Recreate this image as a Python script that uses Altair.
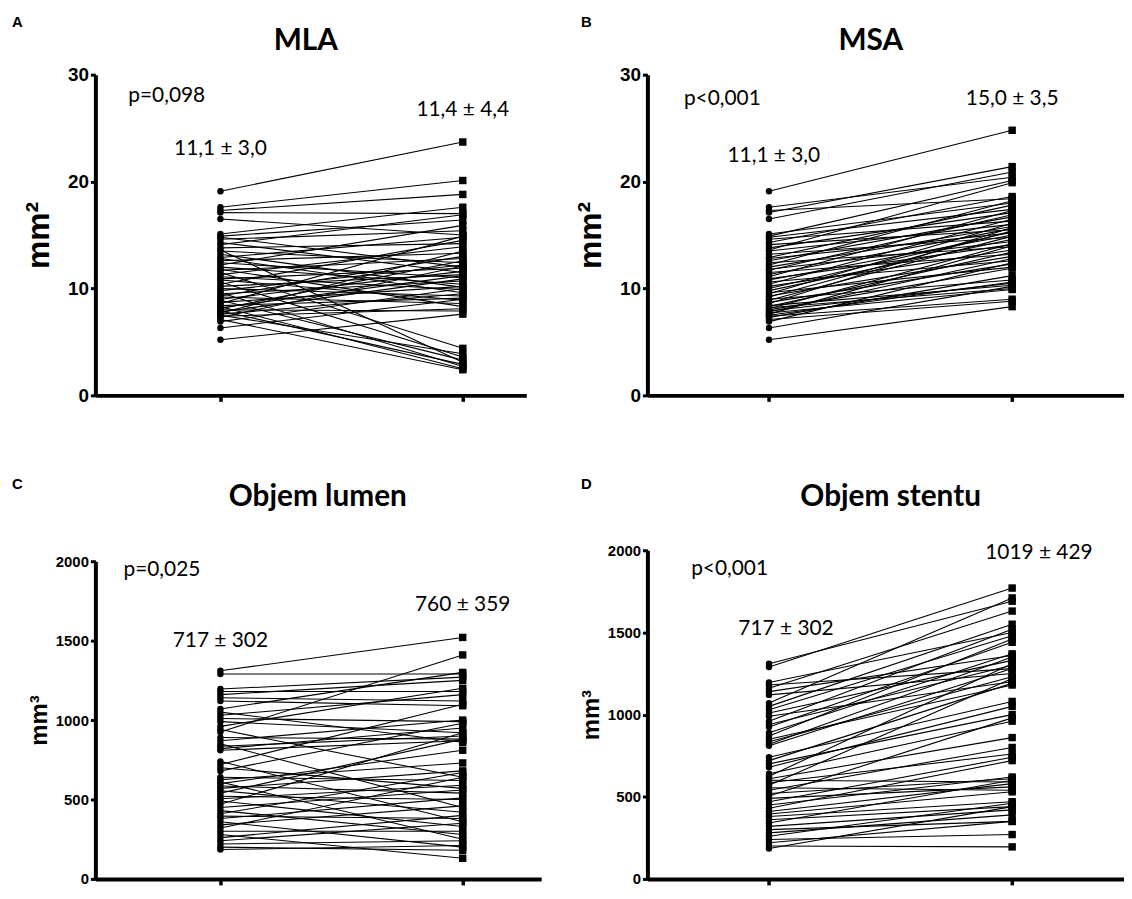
import altair as alt
import pandas as pd

# ---------------- data ----------------
# cross-sectional areas, mm^2 (same baseline column in panels A and B)
area_before = [19.1, 17.6, 17.3, 17.1, 16.5, 15.1, 14.9, 14.8, 14.6, 14.3,
               14.1, 13.8, 13.6, 13.5, 13.2, 12.9, 12.8, 12.6, 12.4, 12.2,
               12.0, 11.8, 11.7, 11.5, 11.3, 11.1, 10.9, 10.8, 10.6, 10.4,
               10.2, 10.0, 9.8, 9.6, 9.5, 9.3, 9.2, 9.0, 8.9, 8.7,
               8.6, 8.4, 8.3, 8.2, 8.1, 8.0, 7.9, 7.8, 7.7, 7.6,
               7.5, 7.4, 7.3, 7.1, 6.9, 6.3, 5.2]
mla_after = [23.7, 20.1, 18.8, 17.0, 15.0, 17.6, 16.4, 12.0, 15.4, 11.5,
             16.9, 14.2, 3.1, 12.4, 10.1, 14.8, 9.6, 13.3, 11.0, 15.9,
             10.4, 8.3, 12.8, 4.4, 13.9, 9.9, 11.9, 8.9, 3.6, 14.5,
             11.3, 9.3, 12.2, 2.7, 10.7, 13.0, 8.6, 11.6, 3.3, 10.2,
             14.9, 9.1, 2.5, 11.2, 12.6, 7.9, 2.9, 10.9, 13.5, 9.5,
             3.9, 8.1, 12.1, 2.4, 10.0, 9.0, 7.6]
msa_after = [24.8, 20.4, 18.4, 21.4, 20.9, 18.0, 20.1, 17.4, 16.3, 18.6,
             15.5, 17.1, 19.9, 16.0, 14.8, 17.8, 15.2, 16.7, 13.9, 18.2,
             15.8, 14.4, 16.9, 13.2, 15.6, 17.3, 14.1, 15.0, 12.6, 16.5,
             13.6, 15.3, 14.6, 12.0, 16.1, 13.0, 15.4, 10.8, 14.9, 12.3,
             15.7, 10.3, 13.4, 10.0, 14.2, 11.9, 10.5, 12.8, 9.9, 14.0,
             10.6, 9.0, 11.2, 8.8, 12.4, 10.2, 8.3]

# volumes, mm^3 (same baseline column in panels C and D)
vol_before = [1310, 1290, 1195, 1180, 1160, 1140, 1120, 1070, 1050, 1030,
              1010, 990, 960, 940, 925, 890, 870, 850, 835, 820,
              810, 740, 720, 700, 680, 640, 625, 610, 600, 585,
              570, 555, 540, 520, 505, 490, 470, 450, 430, 410,
              395, 380, 360, 340, 320, 300, 280, 260, 240, 220,
              200, 185]
lumen_after = [1520, 1290, 1270, 1180, 1250, 1120, 1090, 1300, 860, 1160,
               990, 920, 1200, 640, 1410, 880, 1000, 450, 900, 950,
               870, 360, 1100, 570, 980, 620, 730, 250, 810, 540,
               680, 420, 880, 500, 590, 330, 920, 560, 280, 670,
               380, 510, 200, 460, 640, 300, 130, 400, 350, 240,
               180, 210]
stent_after = [1690, 1770, 1500, 1280, 1630, 1360, 1250, 1710, 1550, 1480,
               1330, 1200, 1520, 1300, 1440, 1370, 1460, 1180, 1230, 1350,
               1280, 1080, 1190, 1000, 1050, 960, 1310, 860, 590, 760,
               1220, 540, 800, 610, 980, 560, 740, 620, 720, 580,
               530, 470, 440, 600, 420, 350, 390, 460, 270, 350,
               195, 440]

panel_titles = ["MLA", "MSA", "Objem lumen", "Objem stentu"]
panel_letters = ["A", "B", "C", "D"]
p_values = ["p=0,098", "p<0,001", "p=0,025", "p<0,001"]
before_labels = ["11,1 \u00b1 3,0", "11,1 \u00b1 3,0", "717 \u00b1 302", "717 \u00b1 302"]
after_labels = ["11,4 \u00b1 4,4", "15,0 \u00b1 3,5", "760 \u00b1 359", "1019 \u00b1 429"]
y_titles = ["mm\u00b2", "mm\u00b2", "mm\u00b3", "mm\u00b3"]

TXT_FONT = "Lato"
AX_FONT = "Liberation Sans"


def long_df(before, after):
    rows = []
    for i, (b, a) in enumerate(zip(before, after)):
        rows.append({"id": i, "t": 0, "v": b})
        rows.append({"id": i, "t": 1, "v": a})
    return pd.DataFrame(rows)


def panel(k, before, after, ydom, yvals, width, height, xdom,
          title_xy, letter_xy, ann, label_size, ytitle_size, title_pad):
    df = long_df(before, after)
    xs = alt.Scale(domain=xdom, nice=False, zero=False)
    ys = alt.Scale(domain=ydom, nice=False, zero=False)
    xaxis = alt.Axis(values=[0, 1], labels=False, title=None, grid=False,
                     domainWidth=4, domainColor="black", tickWidth=3.5,
                     tickColor="black", tickSize=6)
    yaxis = alt.Axis(values=yvals, format="d", title=y_titles[k], grid=False,
                     domainWidth=4, domainColor="black", tickWidth=3,
                     tickColor="black", tickSize=5, labelFont=AX_FONT,
                     labelFontWeight="bold", labelFontSize=label_size,
                     labelColor="black", labelPadding=2,
                     titleFont=AX_FONT, titleFontWeight="bold",
                     titleFontSize=ytitle_size, titleColor="black",
                     titlePadding=title_pad)
    X = alt.X("t:Q", scale=xs, axis=xaxis)
    Y = alt.Y("v:Q", scale=ys, axis=yaxis)
    base = alt.Chart(df).encode(x=X, y=Y)
    lines = base.mark_line(color="black", strokeWidth=1.1).encode(detail="id:N")
    p0 = base.transform_filter("datum.t == 0").mark_point(
        shape="circle", filled=True, size=42, color="black", opacity=1)
    p1 = base.transform_filter("datum.t == 1").mark_point(
        shape="square", filled=True, size=56, color="black", opacity=1)

    # statistics annotations, placed in data coordinates
    (px, py), (bx, by), (ax_, ay) = ann
    ann_df = pd.DataFrame({
        "t": [px, bx, ax_],
        "v": [py, by, ay],
        "label": [p_values[k], before_labels[k], after_labels[k]],
    })
    ann_p = alt.Chart(ann_df.iloc[[0]]).mark_text(
        align="left", baseline="middle", font=TXT_FONT, fontSize=21,
        color="black").encode(x=X, y=Y, text="label:N")
    ann_m = alt.Chart(ann_df.iloc[[1, 2]]).mark_text(
        align="center", baseline="middle", font=TXT_FONT, fontSize=21,
        color="black").encode(x=X, y=Y, text="label:N")

    one = pd.DataFrame({"k": [k]})
    ttl = alt.Chart(one).mark_text(
        align="center", baseline="middle", font=TXT_FONT, fontWeight="bold",
        fontSize=30, color="black").encode(
        x=alt.value(title_xy[0]), y=alt.value(title_xy[1]),
        text=alt.value(panel_titles[k]))
    let = alt.Chart(one).mark_text(
        align="left", baseline="top", font=AX_FONT, fontWeight="bold",
        fontSize=15, color="black").encode(
        x=alt.value(letter_xy[0]), y=alt.value(letter_xy[1]),
        text=alt.value(panel_letters[k]))

    return alt.layer(lines, p0, p1, ann_p, ann_m, ttl, let).properties(
        width=width, height=height)


A = panel(0, area_before, mla_after, [0, 30], [0, 10, 20, 30], 434, 323,
          [-0.516, 1.262], (212, -34), (-84, -60),
          ((-0.38, 28.0), (0.0, 23.0), (1.0, 26.7)), 19, 32, 12)
B = panel(1, area_before, msa_after, [0, 30], [0, 10, 20, 30], 480, 323,
          [-0.5, 1.46], (225, -34), (-67, -60),
          ((-0.35, 27.7), (0.02, 22.4), (1.0, 27.7)), 19, 32, 12)
C = panel(2, vol_before, lumen_after, [0, 2000], [0, 500, 1000, 1500, 2000],
          449, 320, [-0.516, 1.324], (224, -65), (-84, -85),
          ((-0.40, 1945), (0.0, 1500), (1.0, 1722)), 15, 24, 4)
D = panel(3, vol_before, stent_after, [0, 2000], [0, 500, 1000, 1500, 2000],
          480, 331, [-0.5, 1.46], (245, -54), (-67, -74),
          ((-0.32, 1883), (0.07, 1520), (1.11, 1982)), 15, 24, 4)

left = alt.vconcat(A, C, spacing=167, bounds="flush")
right = alt.vconcat(B, D, spacing=156, bounds="flush")
chart = alt.hconcat(left, right, spacing=33).properties(
    padding={"left": 4, "top": 4, "right": 0, "bottom": 0},
    background="white",
).configure_view(stroke=None)

chart.save("out.html", embed_options={"renderer": "svg", "actions": False})
